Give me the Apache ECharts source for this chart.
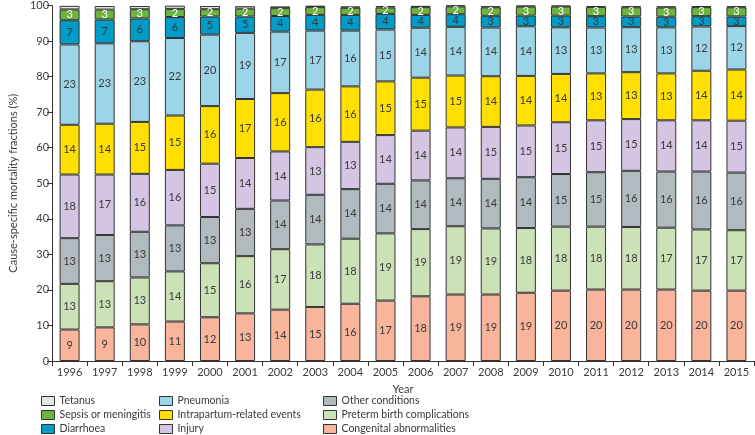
<!DOCTYPE html>
<html>
<head>
<meta charset="utf-8">
<script src="https://cdn.jsdelivr.net/npm/echarts@6/dist/echarts.min.js"></script>
<style>html,body{margin:0;padding:0;background:#fff;}#c{width:755px;height:435px;}</style>
</head>
<body>
<div id="c"></div>
<script>
var years = ['1996','1997','1998','1999','2000','2001','2002','2003','2004','2005','2006','2007','2008','2009','2010','2011','2012','2013','2014','2015'];
var congenital = [8.85, 9.45, 10.3, 11.1, 12.3, 13.4, 14.45, 15.2, 16.1, 17.0, 18.2, 18.7, 18.7, 19.2, 19.8, 20.1, 20.1, 20.1, 19.8, 19.8];
var preterm = [12.85, 13.0, 13.2, 14.1, 15.2, 16.1, 17.0, 17.6, 18.3, 18.9, 18.9, 19.2, 18.6, 18.2, 18.0, 17.7, 17.6, 17.4, 17.2, 17.0];
var otherCond = [12.85, 13.0, 12.85, 12.95, 13.0, 13.3, 13.7, 13.95, 13.95, 13.95, 13.7, 13.5, 13.95, 14.3, 14.8, 15.3, 15.8, 15.8, 16.3, 16.2];
var injury = [17.9, 17.0, 16.3, 15.6, 15.0, 14.3, 13.8, 13.4, 13.3, 13.7, 14.0, 14.3, 14.6, 14.55, 14.55, 14.6, 14.55, 14.4, 14.4, 14.6];
var intrapartum = [14.0, 14.3, 14.6, 15.3, 16.2, 16.6, 16.4, 16.2, 15.6, 15.1, 14.9, 14.6, 14.25, 13.95, 13.6, 13.2, 13.2, 13.2, 13.95, 14.4];
var pneumonia = [22.6, 22.6, 22.7, 21.8, 20.1, 18.6, 17.3, 16.6, 15.7, 14.6, 14.05, 13.7, 13.7, 13.95, 13.1, 12.9, 12.65, 12.95, 12.45, 12.2];
var diarrhoea = [6.8, 6.7, 6.4, 5.9, 5.1, 4.6, 4.4, 4.4, 4.4, 4.4, 3.6, 3.55, 3.3, 3.0, 3.3, 3.2, 3.0, 3.0, 2.9, 2.7];
var sepsis = [3.05, 2.8, 2.6, 2.3, 2.05, 2.2, 2.2, 2.2, 2.0, 1.8, 2.2, 2.2, 2.4, 2.55, 2.55, 2.55, 2.6, 2.6, 2.55, 2.6];
var tetanus = [1.0, 1.0, 0.9, 0.9, 0.9, 0.7, 0.5, 0.4, 0.4, 0.4, 0.35, 0.3, 0.3, 0.3, 0.3, 0.3, 0.3, 0.3, 0.3, 0.3];
var yTicks = [0,10,20,30,40,50,60,70,80,90,100];

var FONT = 'Lato';
var TXT = '#3a3a3a';
var seriesDefs = [
  {name:'Congenital abnormalities', data:congenital, color:'#f9b59c', lab:TXT},
  {name:'Preterm birth complications', data:preterm, color:'#cbe2b6', lab:TXT},
  {name:'Other conditions', data:otherCond, color:'#b1babe', lab:TXT},
  {name:'Injury', data:injury, color:'#d4c5e2', lab:TXT},
  {name:'Intrapartum-related events', data:intrapartum, color:'#ffe000', lab:TXT},
  {name:'Pneumonia', data:pneumonia, color:'#9dd5e8', lab:TXT},
  {name:'Diarrhoea', data:diarrhoea, color:'#009bc6', lab:TXT},
  {name:'Sepsis or meningitis', data:sepsis, color:'#6db33f', lab:'#ffffff'},
  {name:'Tetanus', data:tetanus, color:'#dfeadf', lab:TXT}
];
var series = seriesDefs.map(function(s){
  return {
    name:s.name, type:'bar', stack:'total', barWidth:20, data:s.data,
    itemStyle:{color:s.color, borderColor:'#333', borderWidth:1},
    label:{show:true, position:'inside', color:s.lab, fontFamily:FONT, fontSize:11,
      formatter:function(p){ return p.value >= 1.5 ? String(Math.round(p.value)) : ''; }}
  };
});
function legendCol(left, names){
  return {orient:'vertical', left:left, top:394, height:60, padding:0,
    itemWidth:13, itemHeight:9, itemGap:0,
    icon:'rect', selectedMode:false,
    itemStyle:{borderColor:'#333', borderWidth:1},
    textStyle:{fontFamily:FONT, fontSize:10.5, color:TXT, lineHeight:14},
    data:names};
}
var chart = echarts.init(document.getElementById('c'));
chart.setOption({
  animation:false,
  textStyle:{fontFamily:FONT},
  grid:{left:42, right:1, top:4, bottom:74, containLabel:false},
  legend:[
    legendCol(41, ['Tetanus','Sepsis or meningitis','Diarrhoea']),
    legendCol(159, ['Pneumonia','Intrapartum-related events','Injury']),
    legendCol(323, ['Other conditions','Preterm birth complications','Congenital abnormalities'])
  ],
  xAxis:{type:'category', data:years, name:'Year', nameLocation:'middle', nameGap:23,
    nameTextStyle:{fontFamily:FONT, fontSize:11, color:TXT},
    axisLine:{lineStyle:{color:'#333', width:1}},
    axisTick:{show:true, length:5, lineStyle:{color:'#333'}},
    axisLabel:{fontFamily:FONT, fontSize:11, color:TXT, margin:6}},
  yAxis:{type:'value', min:0, max:100, interval:10,
    name:'Cause-specific mortality fractions (%)', nameLocation:'middle', nameGap:32,
    nameTextStyle:{fontFamily:FONT, fontSize:11, color:TXT},
    axisLine:{show:true, lineStyle:{color:'#333', width:1}},
    axisTick:{show:true, length:5, lineStyle:{color:'#333'}},
    splitLine:{show:false},
    axisLabel:{fontFamily:FONT, fontSize:11, color:TXT, margin:3,
      formatter:function(v){ return yTicks.indexOf(v) >= 0 ? String(v) : ''; }}},
  series:series
});
</script>
</body>
</html>
